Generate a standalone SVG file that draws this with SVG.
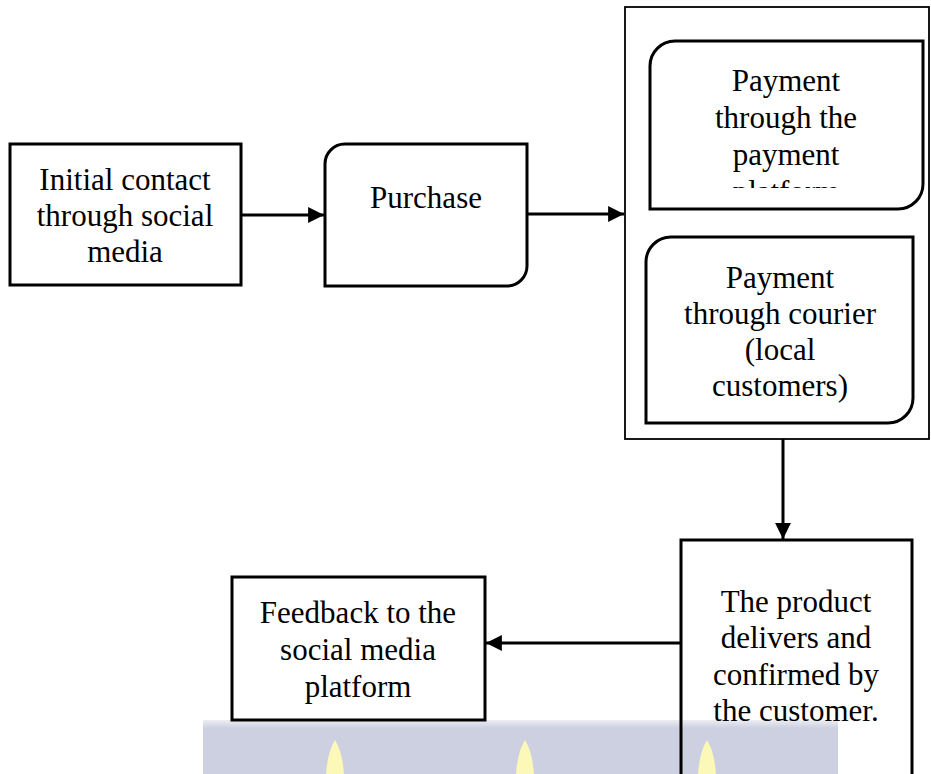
<svg xmlns="http://www.w3.org/2000/svg" width="931" height="774" viewBox="0 0 931 774">
<defs>
<style>
.box{fill:none;stroke:#000;stroke-width:3}
.cont{fill:none;stroke:#000;stroke-width:1.8}
.lbl{font-family:"Liberation Serif","Times New Roman",serif;font-size:31px;fill:#000;text-anchor:middle}
.conn{stroke:#000;stroke-width:3;fill:none}
.flame{fill:#fbf8b8}
</style>
<marker id="ah" viewBox="0 0 10 10" refX="10" refY="5" markerWidth="5.3" markerHeight="5.3" orient="auto" markerUnits="strokeWidth">
<path d="M0,0 L10,5 L0,10 Z" fill="#000"/>
</marker>
<clipPath id="clip1"><rect x="650" y="41" width="273" height="147"/></clipPath>
<linearGradient id="bandfade" x1="0" y1="0" x2="0" y2="1">
<stop offset="0" stop-color="#eceef3"/>
<stop offset="1" stop-color="#cdd0e0"/>
</linearGradient>
</defs>
<rect width="931" height="774" fill="#fff"/>

<g id="watermark">
<rect x="203" y="723" width="635" height="51" fill="#cdd0e0"/>
<rect x="203" y="720" width="635" height="8" fill="url(#bandfade)"/>
<path class="flame" d="M335,740 C330,748 327,760 326,774 L344,774 C343,760 340,748 335,740 Z"/>
<path class="flame" d="M525,740 C520,748 517,760 516,774 L534,774 C533,760 530,748 525,740 Z"/>
<path class="flame" d="M707,740 C702,748 699,760 698,774 L716,774 C715,760 712,748 707,740 Z"/>
</g>

<g id="initial-contact">
<rect class="box" x="10" y="144" width="231" height="141"/>
<text class="lbl" x="125" y="190">Initial contact</text>
<text class="lbl" x="125" y="226">through social</text>
<text class="lbl" x="125" y="262">media</text>
</g>

<g id="purchase">
<path class="box" d="M345,144 H527 V266 A20,20 0 0 1 507,286 H325 V164 A20,20 0 0 1 345,144 Z"/>
<text class="lbl" x="426" y="208">Purchase</text>
</g>

<g id="payment-options">
<rect class="cont" x="625" y="7" width="304" height="432"/>
</g>

<g id="payment-platform">
<path class="box" d="M675,41 H923 V184 A25,25 0 0 1 898,209 H650 V66 A25,25 0 0 1 675,41 Z"/>
<g clip-path="url(#clip1)">
<text class="lbl" x="786" y="91">Payment</text>
<text class="lbl" x="786" y="128">through the</text>
<text class="lbl" x="786" y="165">payment</text>
<text class="lbl" x="786" y="202">platform</text>
</g>
</g>

<g id="payment-courier">
<path class="box" d="M671,237 H913 V398 A25,25 0 0 1 888,423 H646 V262 A25,25 0 0 1 671,237 Z"/>
<text class="lbl" x="780" y="288">Payment</text>
<text class="lbl" x="780" y="324">through courier</text>
<text class="lbl" x="780" y="360">(local</text>
<text class="lbl" x="780" y="396">customers)</text>
</g>

<g id="product-delivered">
<rect class="box" x="681" y="540" width="231" height="242"/>
<text class="lbl" x="796" y="612">The product</text>
<text class="lbl" x="796" y="648">delivers and</text>
<text class="lbl" x="796" y="685">confirmed by</text>
<text class="lbl" x="796" y="721">the customer.</text>
</g>

<g id="feedback">
<rect class="box" x="232" y="577" width="253" height="143"/>
<text class="lbl" x="358" y="623">Feedback to the</text>
<text class="lbl" x="358" y="660">social media</text>
<text class="lbl" x="358" y="697">platform</text>
</g>

<g id="connectors">
<line class="conn" x1="241" y1="215" x2="324" y2="215" marker-end="url(#ah)"/>
<line class="conn" x1="527" y1="214" x2="624" y2="214" marker-end="url(#ah)"/>
<line class="conn" x1="783" y1="439" x2="783" y2="539" marker-end="url(#ah)"/>
<line class="conn" x1="680" y1="643" x2="486" y2="643" marker-end="url(#ah)"/>
</g>
</svg>
